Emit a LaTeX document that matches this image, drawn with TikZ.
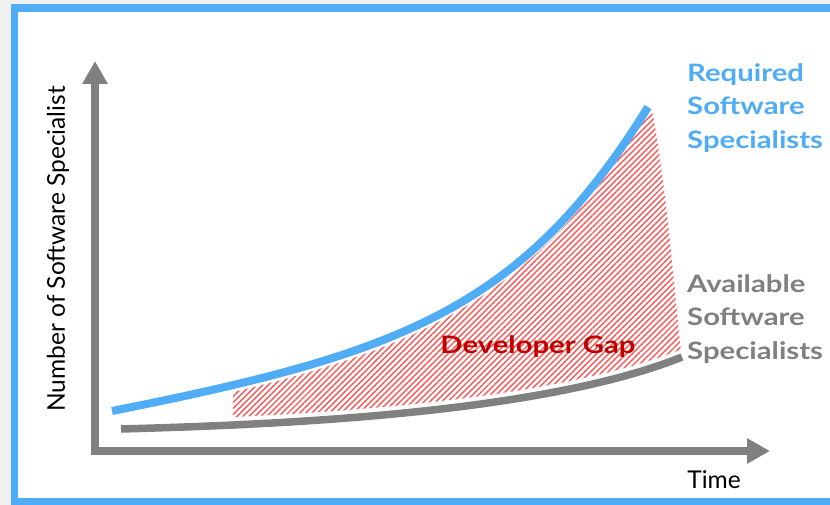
\documentclass[tikz,border=0pt]{standalone}
\usepackage{fontspec}
\setmainfont{Lato}
\newfontfamily\widebold[FakeStretch=1.22]{Lato Bold}
\usepackage{tikz}
\usetikzlibrary{arrows.meta,patterns.meta}

\definecolor{skyblue}{RGB}{80,172,245}
\definecolor{axisgray}{RGB}{128,128,128}
\definecolor{gapred}{RGB}{192,0,0}
\definecolor{hatchred}{RGB}{255,85,85}
\definecolor{pagegray}{RGB}{240,240,240}

\begin{document}
\begin{tikzpicture}[x=1pt,y=-1pt,
    curve/.style={line width=8pt},
    side/.style={font=\widebold\fontsize{24}{33.5}\selectfont,align=left,anchor=north west,inner sep=0pt}]
      \useasboundingbox (0,0) rectangle (830,505);
      \fill[pagegray] (0,0) rectangle (830,505);
      \fill[white] (18,12) rectangle (830,498);
      \draw[skyblue,line width=7.5pt] (14.5,8) rectangle (850,501.5);
      % gap area, between the two curves
      \begin{scope}
        \clip (112,418) .. controls (398,361) and (522,318) .. (648,114) -- (720,114) -- (720,470) -- (112,470) -- cycle;
        \clip (121,421) .. controls (265,417) and (538,407) .. (682,349) -- (720,349) -- (720,40) -- (121,40) -- cycle;
        \fill[pattern={Lines[angle=45,distance=4.2pt,line width=1.4pt]},pattern color=hatchred]
          (233,40) -- (653,40) -- (653,115) .. controls (668,200) and (674,290) .. (682,360) -- (682,470) -- (233,470) -- cycle;
      \end{scope}
      % axes
      \coordinate (ytip) at (95,61);
      \coordinate (o) at (95,451);
      \coordinate (xtip) at (770,451);
      \draw[axisgray,line width=8pt,{Triangle[width=24pt,length=23pt]}-{Triangle[width=24pt,length=23pt]}] (ytip) -- (o) -- (xtip);
      % curves
      \draw[curve,skyblue] (112,411) .. controls (398,354) and (522,311) .. (648,107);
      \draw[curve,axisgray,line width=7.5pt] (121,429) .. controls (265,425) and (538,415) .. (682,357);
      % labels
      \node[rotate=90,font=\fontsize{24.5}{28}\selectfont] (ylab) at (58,249) {Number of Software Specialist};
      \node[anchor=base,font=\fontsize{24.5}{28}\selectfont] (time) at (714,488) {Time};
      \node[gapred,font=\widebold\fontsize{24}{28}\selectfont] (gap) at (538,347) {Developer Gap};
      \node[side,skyblue] (req) at (687,63) {Required\\Software\\Specialists};
      \node[side,axisgray] (avail) at (687,274) {Available\\Software\\Specialists};
    \end{tikzpicture}
\end{document}
